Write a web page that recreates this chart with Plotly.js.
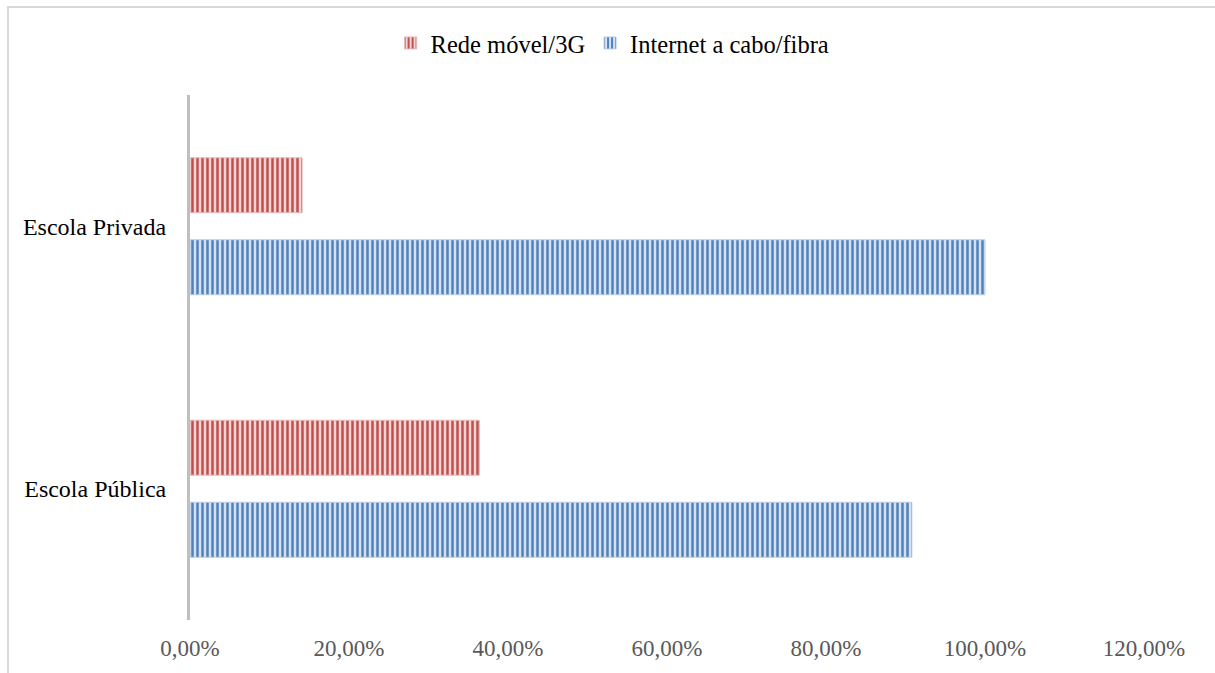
<!DOCTYPE html>
<html>
<head>
<meta charset="utf-8">
<script src="https://cdn.plot.ly/plotly-3.0.1.min.js"></script>
<style>
  html, body { margin: 0; padding: 0; background: #fff; }
  #wrap { position: relative; width: 1215px; height: 673px; overflow: hidden; }
  #chart { width: 1215px; height: 673px; }
  #frame { position: absolute; left: 7px; top: 6px; width: 1300px; height: 800px;
           border-left: 2px solid #d9d9d9; border-top: 2px solid #d9d9d9; pointer-events: none; }
</style>
</head>
<body>
<div id="wrap">
  <div id="chart"></div>
  <div id="frame"></div>
</div>
<script>
const categories = ['Escola Pública', 'Escola Privada'];
const caboValues = [0.908, 1.0];
const movelValues = [0.364, 0.141];
const seriesNames = ['Internet a cabo/fibra', 'Rede móvel/3G'];
const tickValues = [0, 0.2, 0.4, 0.6, 0.8, 1.0, 1.2];

const serif = 'Liberation Serif, Times New Roman, serif';

const traces = [
  {
    type: 'bar', orientation: 'h', name: seriesNames[0],
    y: categories, x: caboValues,
    marker: {
      color: '#d5e1f0',
      line: { color: '#b9cde6', width: 1 },
      pattern: { shape: '|', fgcolor: '#4f81bd', bgcolor: '#d5e1f0', size: 5, solidity: 0.5, fillmode: 'replace' }
    },
    hoverinfo: 'x+name'
  },
  {
    type: 'bar', orientation: 'h', name: seriesNames[1],
    y: categories, x: movelValues,
    marker: {
      color: '#f0d5d4',
      line: { color: '#e6b9b8', width: 1 },
      pattern: { shape: '|', fgcolor: '#c0504d', bgcolor: '#f0d5d4', size: 5, solidity: 0.5, fillmode: 'replace' }
    },
    hoverinfo: 'x+name'
  }
];

const layout = {
  width: 1215, height: 673,
  margin: { l: 190, r: 71, t: 95, b: 53 },
  paper_bgcolor: '#ffffff', plot_bgcolor: '#ffffff',
  separators: ',.',
  barmode: 'group',
  bargap: 0.375,
  bargroupgap: 0.33,
  font: { family: serif, size: 24, color: '#000' },
  showlegend: true,
  legend: {
    orientation: 'h', traceorder: 'reversed',
    x: 0.443, xanchor: 'center', y: 1.099, yanchor: 'middle',
    font: { family: serif, size: 24.5, color: '#000' },
    itemwidth: 30, bgcolor: 'rgba(0,0,0,0)'
  },
  xaxis: {
    range: [0, 1.2], tickvals: tickValues, tickformat: '.2%',
    showgrid: false, zeroline: false, showline: false, ticks: '',
    tickfont: { family: serif, size: 23, color: '#595959' },
    ticklabelstandoff: 12, fixedrange: true
  },
  yaxis: {
    type: 'category', categoryorder: 'array', categoryarray: categories,
    showgrid: false, zeroline: false, showline: true,
    linecolor: '#bfbfbf', linewidth: 3, ticks: '',
    tickfont: { family: serif, size: 24, color: '#000' },
    ticklabelstandoff: 16, fixedrange: true
  }
};

Plotly.newPlot('chart', traces, layout, { displayModeBar: false, staticPlot: true });
</script>
</body>
</html>
